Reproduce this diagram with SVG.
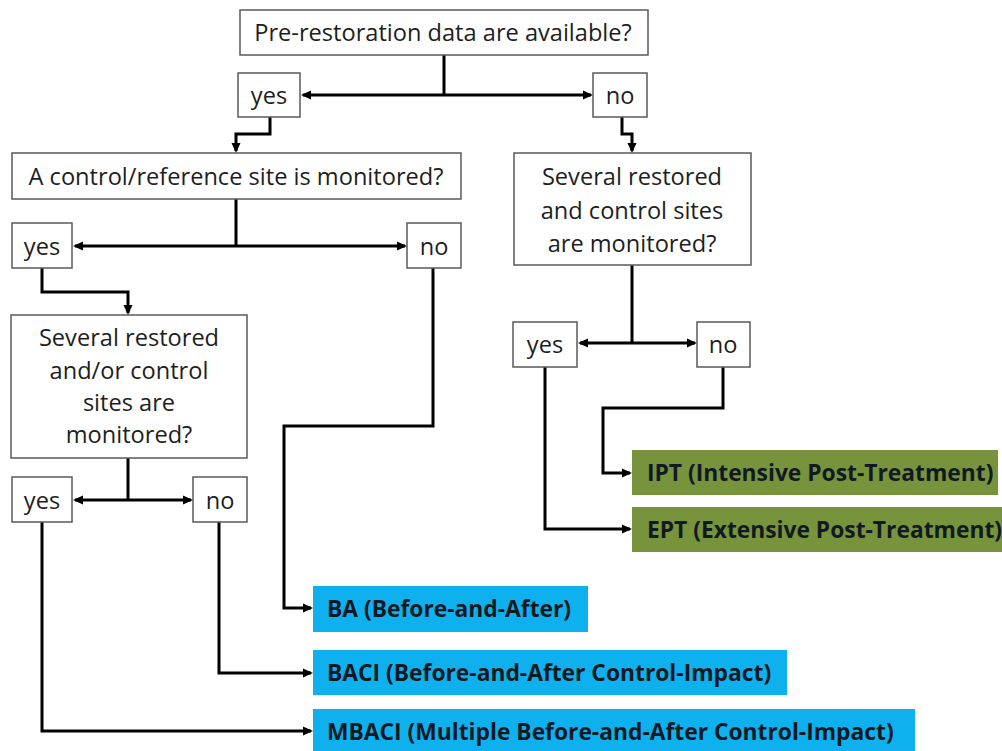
<svg xmlns="http://www.w3.org/2000/svg" width="1002" height="751" viewBox="0 0 1002 751">
<defs>
<style>
.q{fill:#fff;stroke:#5a5a5a;stroke-width:1.5}
.t{font-family:"Open Sans","Noto Sans",sans-serif;font-size:23.6px;fill:#1e1e1e;text-anchor:middle}
.b{font-family:"Open Sans","Noto Sans",sans-serif;font-size:22.8px;font-weight:bold;fill:#111a22}
.blue{fill:#0fb0ee}
.green{fill:#77933c}
.c{fill:none;stroke:#000;stroke-width:3;stroke-linejoin:miter}
</style>
<marker id="ah" markerWidth="11" markerHeight="11" refX="8" refY="5.5" orient="auto" markerUnits="userSpaceOnUse" viewBox="0 0 11 11">
<path d="M0,1 L10,5.5 L0,10 Z" fill="#000"/>
</marker>
</defs>
<rect width="1002" height="751" fill="#fff"/>

<g id="connectors">
<path class="c" d="M444,55 V95"/>
<path class="c" d="M444,95 H303" marker-end="url(#ah)"/>
<path class="c" d="M444,95 H591" marker-end="url(#ah)"/>
<path class="c" d="M270,117 V134 H236 V151" marker-end="url(#ah)"/>
<path class="c" d="M622,117 V134 H632 V151" marker-end="url(#ah)"/>
<path class="c" d="M236,199 V246"/>
<path class="c" d="M236,246 H75" marker-end="url(#ah)"/>
<path class="c" d="M236,246 H405" marker-end="url(#ah)"/>
<path class="c" d="M42,268 V292 H128 V313" marker-end="url(#ah)"/>
<path class="c" d="M433,268 V426 H284 V608 H311" marker-end="url(#ah)"/>
<path class="c" d="M128,458 V500"/>
<path class="c" d="M128,500 H75" marker-end="url(#ah)"/>
<path class="c" d="M128,500 H191" marker-end="url(#ah)"/>
<path class="c" d="M42,522 V731 H311" marker-end="url(#ah)"/>
<path class="c" d="M219,522 V673 H311" marker-end="url(#ah)"/>
<path class="c" d="M632,265 V343"/>
<path class="c" d="M632,343 H580" marker-end="url(#ah)"/>
<path class="c" d="M632,343 H695" marker-end="url(#ah)"/>
<path class="c" d="M545,367 V529 H630" marker-end="url(#ah)"/>
<path class="c" d="M723,367 V408 H603 V473 H630" marker-end="url(#ah)"/>
</g>

<g id="q1"><rect class="q" x="240" y="10" width="408" height="45"/><text class="t" x="443" y="41">Pre-restoration data are available?</text></g>
<g id="yes1"><rect class="q" x="238" y="73" width="62" height="44"/><text class="t" x="269" y="104">yes</text></g>
<g id="no1"><rect class="q" x="593" y="73" width="54" height="44"/><text class="t" x="620" y="104">no</text></g>

<g id="q2"><rect class="q" x="12" y="153" width="449" height="46"/><text class="t" x="236" y="185">A control/reference site is monitored?</text></g>
<g id="yes2"><rect class="q" x="12" y="223" width="60" height="45"/><text class="t" x="42" y="255">yes</text></g>
<g id="no2"><rect class="q" x="407" y="223" width="54" height="45"/><text class="t" x="434" y="255">no</text></g>

<g id="q3"><rect class="q" x="11" y="315" width="236" height="143"/>
<text class="t" x="129" y="346">Several restored</text>
<text class="t" x="129" y="379">and/or control</text>
<text class="t" x="129" y="411">sites are</text>
<text class="t" x="129" y="443">monitored?</text></g>
<g id="yes3"><rect class="q" x="12" y="477" width="60" height="45"/><text class="t" x="42" y="509">yes</text></g>
<g id="no3"><rect class="q" x="193" y="477" width="54" height="45"/><text class="t" x="220" y="509">no</text></g>

<g id="q4"><rect class="q" x="514" y="153" width="237" height="112"/>
<text class="t" x="632" y="185">Several restored</text>
<text class="t" x="632" y="219">and control sites</text>
<text class="t" x="632" y="252">are monitored?</text></g>
<g id="yes4"><rect class="q" x="513" y="322" width="64" height="45"/><text class="t" x="545" y="353">yes</text></g>
<g id="no4"><rect class="q" x="697" y="322" width="53" height="45"/><text class="t" x="723" y="353">no</text></g>

<g id="ipt"><rect class="green" x="632" y="450" width="366" height="45"/><text class="b" x="647" y="481">IPT (Intensive Post-Treatment)</text></g>
<g id="ept"><rect class="green" x="632" y="507" width="370" height="45"/><text class="b" x="647" y="538">EPT (Extensive Post-Treatment)</text></g>
<g id="ba"><rect class="blue" x="313" y="586" width="275" height="46"/><text class="b" x="327" y="617">BA (Before-and-After)</text></g>
<g id="baci"><rect class="blue" x="313" y="650" width="474" height="45"/><text class="b" x="327" y="681">BACI (Before-and-After Control-Impact)</text></g>
<g id="mbaci"><rect class="blue" x="313" y="709" width="602" height="46"/><text class="b" x="327" y="740">MBACI (Multiple Before-and-After Control-Impact)</text></g>
</svg>
